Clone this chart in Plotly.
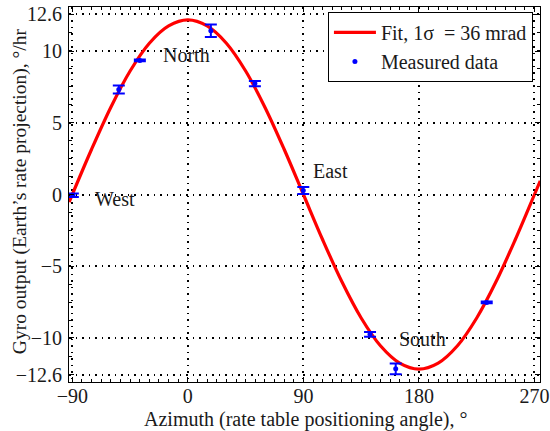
import plotly.graph_objects as go

# Measured data (azimuth deg, gyro output deg/hr, error half-width)
meas_x = [-89.6, -53.8, -37.4, 17.9, 52.2, 89.9, 141.9, 161.9, 232.8]
meas_y = [-0.05, 7.33, 9.37, 11.44, 7.75, 0.28, -9.77, -12.18, -7.54]
meas_err = [0.12, 0.28, 0.06, 0.44, 0.18, 0.25, 0.16, 0.38, 0.06]

# Fit curve
fit_x = [-92.5, -75, -60, -45, -30, -15, 0, 15, 30, 45, 60, 75, 90, 105, 120,
         135, 150, 165, 180, 195, 210, 225, 240, 255, 270, 274.5]
fit_y = [-0.53, 3.16, 6.1, 8.63, 10.57, 11.78, 12.2, 11.78, 10.57, 8.63, 6.1,
         3.16, 0.0, -3.16, -6.1, -8.63, -10.57, -11.78, -12.2, -11.78, -10.57,
         -8.63, -6.1, -3.16, 0.0, 0.96]

x_ticks = [-90, 0, 90, 180, 270]
x_ticktext = ["\u221290", "0", "90", "180", "270"]
y_ticks = [-12.6, -10, -5, 0, 5, 10, 12.6]
y_ticktext = ["\u221212.6", "\u221210", "\u22125", "0", "5", "10", "12.6"]

labels = ["West", "North", "East", "South"]
label_x = [-74.0, -21.0, 95.8, 163.0]
label_y = [-0.33, 9.72, 1.63, -10.12]

x_title = "Azimuth (rate table positioning angle), \u00b0"
y_title = "Gyro output (Earth\u2019s rate projection), \u00b0/hr"

font_family = "Liberation Serif"
txt_color = "#1a1a1a"

fig = go.Figure()
fig.add_trace(go.Scatter(
    x=fit_x, y=fit_y, mode="lines", line=dict(color="#ff0000", width=3.2, shape="spline"),
    name="Fit, 1\u03c3  = 36 mrad"))
fig.add_trace(go.Scatter(
    x=meas_x, y=meas_y, mode="markers",
    marker=dict(color="#0000ff", size=5),
    error_y=dict(type="data", array=meas_err, color="#0000ff", thickness=2, width=6),
    name="Measured data"))

for t, ax_, ay_ in zip(labels, label_x, label_y):
    fig.add_annotation(x=ax_, y=ay_, text=t, showarrow=False, xanchor="left",
                       yanchor="middle", font=dict(family=font_family, size=20, color=txt_color))

# axis titles as paper annotations for precise placement
fig.add_annotation(xref="paper", yref="paper", x=0.503, y=-0.101, text=x_title,
                   showarrow=False, xanchor="center", yanchor="middle",
                   font=dict(family=font_family, size=20, color=txt_color))
fig.add_annotation(xref="paper", yref="paper", x=-0.104, y=0.509, text=y_title,
                   showarrow=False, xanchor="center", yanchor="middle", textangle=-90,
                   font=dict(family=font_family, size=19.5, color=txt_color))

axis_common = dict(
    showline=True, linecolor="black", linewidth=1, mirror="ticks",
    ticks="inside", ticklen=5, tickcolor="black",
    showgrid=True, gridcolor="black", griddash="1.5px,5px", gridwidth=1.5,
    zeroline=False, automargin=False,
    tickfont=dict(family=font_family, size=20, color=txt_color),
)

fig.update_layout(
    width=550, height=431,
    margin=dict(l=69, r=10, t=7, b=49, autoexpand=False),
    plot_bgcolor="white", paper_bgcolor="white",
    font=dict(family=font_family, size=20, color=txt_color),
    xaxis=dict(range=[-92.6, 274.3], tickmode="array", tickvals=x_ticks, ticktext=x_ticktext,
               ticklabelstandoff=-4,
               minor=dict(ticks="inside", ticklen=3, tickcolor="black", tick0=0, dtick=7.5,
                          showgrid=False),
               **axis_common),
    yaxis=dict(range=[-13.1, 13.1], tickmode="array", tickvals=y_ticks, ticktext=y_ticktext,
               ticklabelstandoff=2,
               minor=dict(ticks="inside", ticklen=3, tickcolor="black", tick0=12.6, dtick=1.26,
                          showgrid=False),
               **axis_common),
    legend=dict(x=0.985, y=0.987, xanchor="right", yanchor="top",
                bgcolor="white", bordercolor="black", borderwidth=1,
                font=dict(family=font_family, size=20, color=txt_color),
                tracegroupgap=0, itemwidth=42),
    showlegend=True,
)

fig.write_html("out.html")
